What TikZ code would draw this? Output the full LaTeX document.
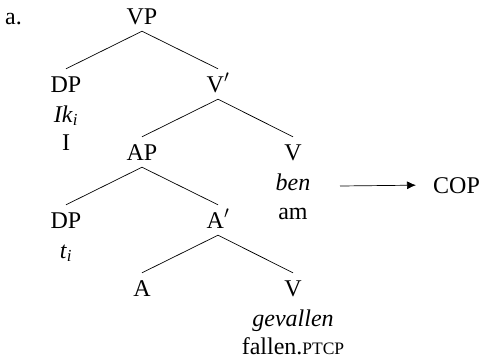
\documentclass[tikz,border=0pt]{standalone}
\usepackage{fontspec}
\setmainfont{Liberation Serif}
\usetikzlibrary{arrows.meta}

% small capitals for glosses
\newcommand{\glosscaps}[1]{{\fontsize{17.5}{17.5}\selectfont #1}}

\begin{document}
\begin{tikzpicture}[x=1pt, y=-1pt,
    font=\fontsize{24}{29}\selectfont,
    cat/.style={anchor=base, inner sep=0pt, text height=23pt, text depth=7pt},
    gloss/.style={anchor=base, inner sep=0pt},
    branch/.style={line width=0.7pt}]
    \useasboundingbox (0,0) rectangle (480,364);

    % Example label
    \node[anchor=base west, inner sep=0pt] (ex) at (5,24) {a.};

    % Tree nodes
    \node[cat] (vp)   at (142,24)  {VP};
    \node[cat] (dp1)  at (66,92)   {DP};
    \node[cat] (vbar) at (218,92)  {V$'$};
    \node[cat] (ap)   at (142,160) {AP};
    \node[cat] (v1)   at (293,160) {V};
    \node[cat] (dp2)  at (66,228)  {DP};
    \node[cat] (abar) at (218,228) {A$'$};
    \node[cat] (a)    at (142,296) {A};
    \node[cat] (v2)   at (293,296) {V};

    % Words and glosses
    \node[gloss] (ik)    at (66,122)  {\textit{Ik}\textsubscript{\textit{i}}};
    \node[gloss] (i)     at (66,150)  {I};
    \node[gloss] (ben)   at (293,190) {\textit{ben}};
    \node[gloss] (am)    at (293,219) {am};
    \node[gloss] (trace) at (66,258)  {\textit{t}\textsubscript{\textit{i}}};
    \node[gloss] (gev)   at (293,326) {\textit{gevallen}};
    \node[gloss] (fal)   at (293,354) {fallen.\glosscaps{PTCP}};

    % Branches
    \draw[branch] (vp.south) -- (dp1.north);
    \draw[branch] (vp.south) -- (vbar.north);
    \draw[branch] (vbar.south) -- (ap.north);
    \draw[branch] (vbar.south) -- (v1.north);
    \draw[branch] (ap.south) -- (dp2.north);
    \draw[branch] (ap.south) -- (abar.north);
    \draw[branch] (abar.south) -- (a.north);
    \draw[branch] (abar.south) -- (v2.north);

    % Arrow to COP
    \coordinate (copfrom) at (340,186);
    \node[anchor=base west, inner xsep=17pt, inner ysep=0pt] (cop) at (416,193) {COP};
    \draw[branch, -{Latex[length=9pt, width=8pt]}] (copfrom) -- (cop.west);

\end{tikzpicture}
\end{document}
